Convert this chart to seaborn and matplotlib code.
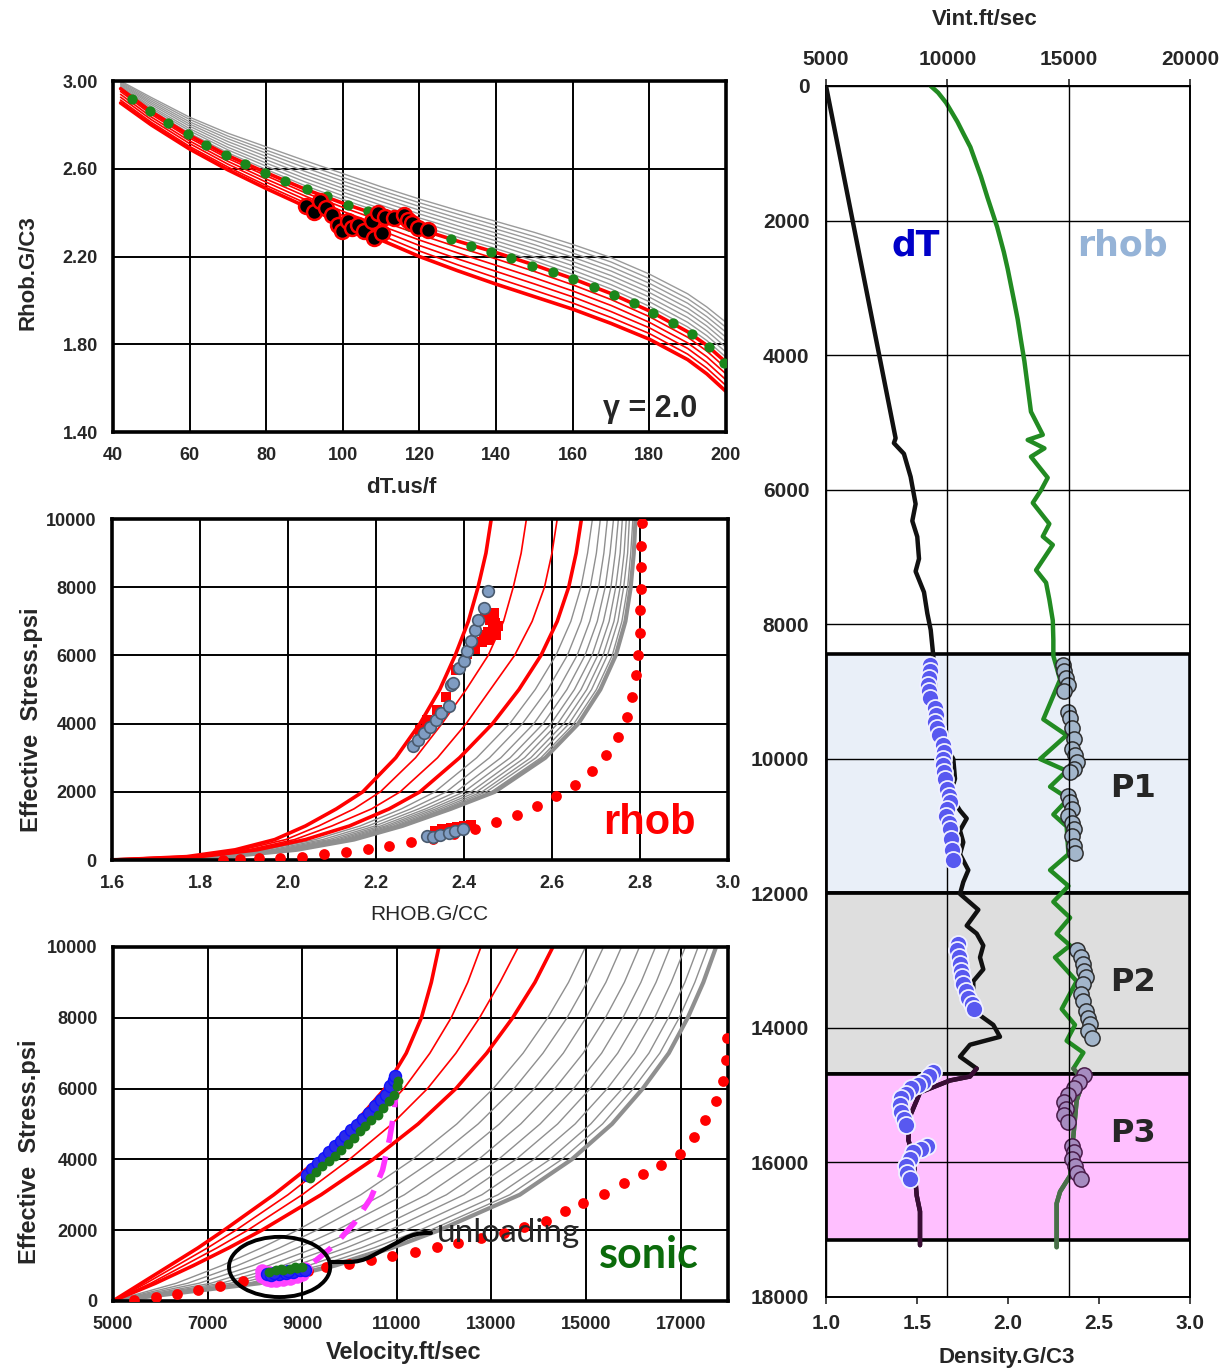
import numpy as np
import matplotlib
matplotlib.use("Agg")
import matplotlib.pyplot as plt
import seaborn as sns
from matplotlib.patches import Ellipse
from matplotlib.ticker import FormatStrFormatter

# ---------------- panel 1 : Rhob vs dT ----------------
p1_dt = [42, 50, 60, 70, 80, 90, 100, 110, 120, 130, 140, 150, 160, 170, 180, 190, 195, 200]
p1_red = [
    [2.900, 2.800, 2.690, 2.595, 2.510, 2.430, 2.350, 2.275, 2.200, 2.135, 2.074, 2.017, 1.960, 1.895, 1.823, 1.730, 1.665, 1.585],
    [2.913, 2.812, 2.702, 2.608, 2.524, 2.446, 2.369, 2.297, 2.225, 2.162, 2.103, 2.046, 1.988, 1.922, 1.849, 1.755, 1.691, 1.612],
    [2.926, 2.824, 2.715, 2.621, 2.539, 2.461, 2.387, 2.319, 2.250, 2.189, 2.132, 2.075, 2.016, 1.949, 1.875, 1.781, 1.717, 1.638],
    [2.939, 2.836, 2.727, 2.634, 2.553, 2.477, 2.406, 2.340, 2.275, 2.216, 2.160, 2.103, 2.043, 1.977, 1.900, 1.806, 1.743, 1.665],
    [2.952, 2.848, 2.740, 2.647, 2.568, 2.492, 2.424, 2.362, 2.300, 2.243, 2.189, 2.132, 2.071, 2.004, 1.926, 1.832, 1.769, 1.691],
    [2.965, 2.860, 2.752, 2.660, 2.582, 2.508, 2.443, 2.384, 2.325, 2.270, 2.218, 2.161, 2.099, 2.031, 1.952, 1.857, 1.795, 1.718],
]
p1_grey = [
    [2.969, 2.868, 2.762, 2.673, 2.597, 2.524, 2.460, 2.401, 2.342, 2.288, 2.236, 2.180, 2.119, 2.052, 1.973, 1.879, 1.817, 1.741],
    [2.974, 2.876, 2.773, 2.686, 2.612, 2.541, 2.477, 2.418, 2.359, 2.305, 2.254, 2.198, 2.138, 2.072, 1.994, 1.900, 1.839, 1.764],
    [2.978, 2.884, 2.783, 2.698, 2.626, 2.557, 2.494, 2.434, 2.376, 2.323, 2.271, 2.217, 2.158, 2.093, 2.015, 1.922, 1.861, 1.786],
    [2.983, 2.893, 2.794, 2.711, 2.641, 2.573, 2.511, 2.451, 2.394, 2.340, 2.289, 2.236, 2.177, 2.113, 2.036, 1.944, 1.883, 1.809],
    [2.987, 2.901, 2.804, 2.724, 2.656, 2.589, 2.527, 2.468, 2.411, 2.358, 2.307, 2.254, 2.197, 2.134, 2.057, 1.965, 1.904, 1.832],
    [2.991, 2.909, 2.814, 2.737, 2.671, 2.606, 2.544, 2.485, 2.428, 2.375, 2.325, 2.273, 2.216, 2.154, 2.078, 1.987, 1.926, 1.855],
    [2.996, 2.917, 2.825, 2.749, 2.685, 2.622, 2.561, 2.501, 2.445, 2.393, 2.342, 2.291, 2.236, 2.175, 2.099, 2.008, 1.948, 1.877],
    [3.000, 2.925, 2.835, 2.762, 2.700, 2.638, 2.578, 2.518, 2.462, 2.410, 2.360, 2.310, 2.255, 2.195, 2.120, 2.030, 1.970, 1.900],
]
p1_green_dt = [45.1, 49.6, 54.4, 59.5, 64.4, 69.4, 74.5, 79.8, 85.0, 90.6, 95.9, 101.3, 106.6, 112.0, 117.3, 122.8,
               128.3, 133.5, 138.8, 144.0, 149.4, 154.8, 160.2, 165.5, 170.7, 175.9, 181.0, 186.2, 191.2, 195.6, 199.4]
p1_green_rhob = [2.918, 2.863, 2.807, 2.757, 2.708, 2.662, 2.620, 2.582, 2.544, 2.507, 2.474, 2.437, 2.407, 2.372, 2.340, 2.308,
                 2.280, 2.250, 2.220, 2.192, 2.157, 2.130, 2.097, 2.059, 2.024, 1.986, 1.944, 1.899, 1.846, 1.789, 1.716]
p1_pts_dt = [90.5, 92.5, 94.0, 95.5, 97.2, 98.8, 99.8, 101.4, 102.5, 104.0, 105.5, 107.6, 108.1, 109.2, 110.2, 111.0,
             113.3, 115.9, 117.0, 118.0, 119.5, 122.1]
p1_pts_rhob = [2.430, 2.405, 2.452, 2.420, 2.391, 2.345, 2.315, 2.360, 2.330, 2.345, 2.315, 2.360, 2.284, 2.398, 2.307, 2.380,
               2.376, 2.391, 2.365, 2.353, 2.330, 2.322]

# ---------------- panel 2 : effective stress vs RHOB ----------------
p2_stress = [0, 100, 300, 600, 1000, 1500, 2000, 3000, 4000, 5000, 6000, 7000, 8000, 9000, 10000]
# columns: red thick, red thin, red thin, red thick, 9 grey, grey thick
p2_table = [
    [1.60, 1.60, 1.60, 1.60, 1.60, 1.60, 1.60, 1.60, 1.60, 1.60, 1.60, 1.60, 1.60, 1.60],
    [1.77, 1.78, 1.79, 1.80, 1.812, 1.821, 1.829, 1.835, 1.841, 1.846, 1.850, 1.853, 1.857, 1.86],
    [1.88, 1.895, 1.91, 1.93, 1.948, 1.962, 1.973, 1.983, 1.991, 1.998, 2.005, 2.010, 2.016, 2.02],
    [1.97, 1.995, 2.015, 2.04, 2.062, 2.079, 2.093, 2.105, 2.115, 2.124, 2.131, 2.138, 2.145, 2.15],
    [2.04, 2.07, 2.10, 2.14, 2.164, 2.182, 2.198, 2.211, 2.222, 2.231, 2.240, 2.247, 2.254, 2.26],
    [2.11, 2.15, 2.19, 2.23, 2.258, 2.279, 2.297, 2.313, 2.325, 2.336, 2.346, 2.355, 2.363, 2.37],
    [2.17, 2.21, 2.255, 2.30, 2.334, 2.360, 2.382, 2.400, 2.416, 2.429, 2.441, 2.451, 2.462, 2.47],
    [2.245, 2.29, 2.34, 2.39, 2.429, 2.458, 2.484, 2.505, 2.523, 2.538, 2.552, 2.564, 2.575, 2.585],
    [2.30, 2.35, 2.405, 2.465, 2.504, 2.533, 2.559, 2.580, 2.598, 2.613, 2.627, 2.639, 2.650, 2.66],
    [2.345, 2.405, 2.46, 2.525, 2.562, 2.590, 2.614, 2.634, 2.651, 2.666, 2.679, 2.690, 2.701, 2.71],
    [2.38, 2.455, 2.515, 2.575, 2.609, 2.635, 2.657, 2.675, 2.691, 2.704, 2.716, 2.726, 2.737, 2.745],
    [2.41, 2.49, 2.555, 2.612, 2.643, 2.666, 2.686, 2.703, 2.717, 2.730, 2.741, 2.750, 2.759, 2.767],
    [2.432, 2.512, 2.583, 2.638, 2.666, 2.687, 2.706, 2.721, 2.734, 2.745, 2.755, 2.763, 2.772, 2.779],
    [2.45, 2.53, 2.60, 2.655, 2.681, 2.701, 2.718, 2.732, 2.744, 2.755, 2.764, 2.772, 2.779, 2.786],
    [2.462, 2.542, 2.612, 2.667, 2.692, 2.710, 2.726, 2.740, 2.751, 2.760, 2.769, 2.776, 2.784, 2.79],
]
p2_dots_rho = [1.853, 1.891, 1.934, 1.982, 2.031, 2.082, 2.133, 2.182, 2.230, 2.280, 2.329, 2.378, 2.424, 2.472, 2.521, 2.566,
               2.609, 2.652, 2.690, 2.723, 2.750, 2.771, 2.783, 2.790, 2.796, 2.799, 2.801, 2.802, 2.803, 2.803, 2.804]
p2_dots_stress = [10, 30, 50, 68, 97, 166, 243, 331, 409, 526, 623, 750, 896, 1110, 1334, 1597,
                  1889, 2210, 2600, 3067, 3603, 4187, 4791, 5423, 6008, 6660, 7322, 7955, 8588, 9221, 9873]
p2_blue_rho = [2.284, 2.295, 2.309, 2.322, 2.336, 2.348, 2.365, 2.370, 2.375, 2.389, 2.400, 2.408, 2.416, 2.424, 2.431,
               2.445, 2.454, 2.316, 2.330, 2.345, 2.365, 2.380, 2.397]
p2_blue_stress = [3350, 3525, 3720, 3914, 4109, 4304, 4518, 5141, 5180, 5629, 5824, 6117, 6429, 6751, 7044,
                  7405, 7893, 701, 672, 720, 798, 850, 896]
p2_red_rho = [2.300, 2.316, 2.338, 2.359, 2.381, 2.408, 2.424, 2.445, 2.455, 2.465, 2.470, 2.478, 2.460, 2.450,
              2.440, 2.458, 2.472, 2.462, 2.448, 2.468,
              2.335, 2.350, 2.370, 2.385, 2.400, 2.415]
p2_red_stress = [3817, 4109, 4400, 4790, 5570, 6056, 6202, 6540, 6700, 6800, 6950, 6850, 7030, 6600,
                 6400, 6450, 6600, 7150, 7200, 7250,
                 850, 900, 940, 960, 1000, 1040]

# ---------------- panel 3 : effective stress vs velocity ----------------
p3_stress = [0, 500, 1000, 1500, 2000, 3000, 4000, 5000, 6000, 7000, 8000, 9000, 10000]
p3_table = [
    [5000, 5000, 5000, 5000, 5000, 5000, 5000, 5000, 5000, 5000, 5000, 5000, 5000, 5000],
    [5600, 5700, 5800, 5900, 6340, 6580, 6820, 7070, 7290, 7480, 7680, 7860, 7990, 8100],
    [6200, 6350, 6500, 6700, 7300, 7630, 7960, 8290, 8590, 8860, 9130, 9370, 9550, 9700],
    [6800, 7000, 7200, 7450, 8140, 8520, 8900, 9280, 9620, 9930, 10250, 10520, 10730, 10900],
    [7350, 7600, 7850, 8150, 8900, 9310, 9730, 10140, 10510, 10850, 11190, 11490, 11710, 11900],
    [8400, 8700, 9000, 9400, 10240, 10700, 11160, 11630, 12050, 12420, 12800, 13140, 13390, 13600],
    [9350, 9650, 10000, 10500, 11340, 11800, 12260, 12730, 13150, 13520, 13900, 14240, 14490, 14700],
    [10100, 10450, 10900, 11450, 12270, 12720, 13170, 13620, 14030, 14400, 14770, 15100, 15350, 15550],
    [10750, 11150, 11650, 12250, 13040, 13480, 13910, 14340, 14740, 15090, 15450, 15770, 16000, 16200],
    [11200, 11700, 12250, 12900, 13670, 14090, 14520, 14940, 15330, 15670, 16020, 16330, 16560, 16750],
    [11520, 12150, 12750, 13450, 14190, 14600, 15000, 15410, 15780, 16110, 16450, 16740, 16970, 17150],
    [11730, 12500, 13180, 13920, 14630, 15020, 15420, 15810, 16160, 16480, 16800, 17090, 17300, 17480],
    [11890, 12780, 13570, 14300, 14990, 15370, 15750, 16130, 16470, 16780, 17100, 17370, 17580, 17750],
]
p3_dots_vel = [5450, 5900, 6350, 6800, 7270, 7740, 8190, 8650, 9120, 9500, 9990, 10450, 10900, 11380, 11840, 12300,
               12780, 13270, 13680, 14150, 14550, 14940, 15380, 15800, 16210, 16590, 16980, 17280, 17520, 17740,
               17890, 17950, 17990]
p3_dots_stress = [30, 110, 210, 300, 415, 550, 650, 740, 850, 960, 1040, 1150, 1280, 1390, 1520, 1640,
                  1770, 1930, 2100, 2270, 2550, 2780, 3030, 3320, 3600, 3850, 4160, 4620, 5100, 5640,
                  6200, 6810, 7430]
p3_unload_vel = [9250, 9700, 10100, 10450, 10700, 10850, 10950, 11000]
p3_unload_stress = [1100, 1600, 2200, 2900, 3700, 4600, 5400, 6100]
p3_blue_vel = [9098, 9217, 9337, 9467, 9566, 9696, 9816, 9915, 10035, 10164, 10294, 10414, 10533, 10663, 10762, 10862,
               10932, 10962, 8250, 8350, 8500, 8650, 8800, 8950, 9050, 8400, 8700]
p3_blue_stress = [3563, 3723, 3893, 4034, 4194, 4364, 4505, 4647, 4835, 4976, 5137, 5306, 5495, 5664, 5825, 6060,
                  6249, 6343, 750, 720, 760, 780, 820, 860, 880, 800, 850]
p3_green_vel = [9168, 9297, 9417, 9566, 9696, 9816, 9965, 10095, 10214, 10334, 10464, 10593, 10713, 10832, 10932, 11012,
                11032, 8300, 8450, 8600, 8750, 8900, 9000, 8550, 8850]
p3_green_stress = [3468, 3629, 3798, 3940, 4100, 4270, 4430, 4599, 4788, 4929, 5099, 5259, 5448, 5636, 5825, 6060,
                   6202, 830, 860, 880, 900, 930, 960, 900, 950]
p3_mag_vel = [8150, 8250, 8350, 8450, 8600, 8750, 8900, 9000, 8150, 8300, 8500, 8700, 8850, 9050]
p3_mag_stress = [700, 620, 580, 600, 620, 640, 700, 760, 850, 800, 700, 720, 800, 900]

# ---------------- right panel : logs vs depth ----------------
log_vint_depth = [0, 5236, 5308, 5467, 5810, 6213, 6465, 6700, 7027, 7215, 7525, 7839, 8086, 8234, 8470, 8824, 9178, 9532,
                  9827, 10004, 10298, 10534, 10770, 10888, 11065, 11242, 11419, 11655, 11832, 12009, 12245, 12481,
                  12599, 12776, 12953, 13130, 13307, 13543, 13779, 13956, 14133, 14251, 14428, 14605, 14723, 14782,
                  14959, 15077, 15313, 15667, 15903, 16493, 16729, 17082, 17230]
log_vint = [5000, 7868, 7797, 8210, 8487, 8692, 8556, 8760, 8832, 8692, 9038, 9174, 9314, 9355, 9421, 9491, 9561, 9697,
            9973, 10245, 10315, 10109, 10521, 10798, 10521, 10657, 10521, 10864, 10657, 10521, 11276, 10798,
            11209, 11481, 11345, 11481, 11069, 11069, 11209, 11893, 12169, 10933, 10521, 11209, 10933, 10109,
            8873, 8737, 8461, 8392, 8598, 8737, 8873, 8873, 8873]
log_rho_depth = [0, 100, 250, 533, 720, 908, 1345, 1657, 2094, 2469, 2718, 3218, 3468, 3780, 4092, 4468, 4842, 5185,
                 5261, 5386, 5511, 5823, 6010, 6197, 6509, 6696, 6821, 7009, 7196, 7383, 7633, 7946, 8234, 8470, 8824,
                 9414, 9650, 10004, 10180, 10416, 10593, 10829, 11006, 11419, 11655, 11891, 12127, 12363, 12599, 12776,
                 12953, 13307, 13720, 13956, 14192, 14369, 14605, 14782, 15077, 15608, 16198, 16434, 16611, 17260]
log_rho = [1.575, 1.616, 1.660, 1.722, 1.757, 1.793, 1.851, 1.887, 1.940, 1.977, 1.998, 2.035, 2.053, 2.071, 2.090, 2.108,
           2.126, 2.191, 2.108, 2.200, 2.126, 2.218, 2.181, 2.136, 2.227, 2.191, 2.246, 2.200, 2.154, 2.209, 2.227,
           2.246, 2.249, 2.249, 2.286, 2.194, 2.322, 2.176, 2.322, 2.231, 2.332, 2.249, 2.322, 2.332, 2.231, 2.332,
           2.249, 2.341, 2.267, 2.341, 2.258, 2.377, 2.295, 2.368, 2.322, 2.414, 2.359, 2.414, 2.377, 2.359, 2.341,
           2.286, 2.267, 2.267]
dt_pts_vint = [9280, 9300, 9250, 9200, 9230, 9300, 9500, 9550, 9500, 9560, 9650, 9800, 9850, 9800, 9820, 9850, 9900,
               10000, 10050, 10100, 10000, 9950, 10050, 10100, 10150, 10200, 10250,
               10450, 10400, 10500, 10520, 10550, 10600, 10650, 10750, 10850, 11000, 11100,
               9400, 9250, 9000, 8800, 8500, 8300, 8100, 8050, 8100, 8200, 8300,
               9150, 8900, 8600, 8450, 8300, 8350, 8450]
dt_pts_depth = [8600, 8700, 8800, 8900, 9000, 9100, 9250, 9350, 9450, 9550, 9650, 9800, 9900, 10000, 10100, 10200, 10300,
                10450, 10550, 10650, 10750, 10850, 10950, 11050, 11200, 11350, 11500,
                12750, 12850, 12950, 13050, 13150, 13250, 13350, 13450, 13550, 13650, 13720,
                14650, 14720, 14800, 14850, 14900, 14980, 15050, 15150, 15250, 15350, 15450,
                15750, 15800, 15850, 15950, 16050, 16150, 16250]
rho_pts = [2.30, 2.31, 2.32, 2.33, 2.31, 2.33, 2.34, 2.35, 2.36, 2.35, 2.37, 2.38, 2.36, 2.34,
           2.33, 2.34, 2.35, 2.33, 2.35, 2.36, 2.35, 2.36, 2.37,
           2.38, 2.40, 2.41, 2.42, 2.43, 2.41, 2.40, 2.41, 2.43, 2.44, 2.45, 2.44, 2.46]
rho_pts_depth = [8600, 8700, 8800, 8900, 9000, 9300, 9400, 9550, 9700, 9850, 9950, 10050, 10150, 10200,
                 10550, 10650, 10750, 10850, 10950, 11050, 11150, 11300, 11400,
                 12850, 12950, 13050, 13150, 13250, 13350, 13500, 13600, 13750, 13850, 13950, 14050, 14150]
rho_p3_pts = [2.42, 2.39, 2.36, 2.33, 2.31, 2.32, 2.31, 2.33, 2.35, 2.36, 2.35, 2.37, 2.38, 2.40]
rho_p3_depth = [14700, 14800, 14900, 15000, 15100, 15200, 15300, 15400, 15750, 15850, 15950, 16050, 16150, 16250]
zone_bounds = [8450, 12000, 14680, 17150]
zone_names = ["P1", "P2", "P3"]
zone_colors = ["#e9eff8", "#dedede", "#ffbfff"]

# ---------------- style ----------------
sns.set_style("white")
plt.rcParams["font.family"] = ["Liberation Sans", "DejaVu Sans"]
plt.rcParams["font.weight"] = "bold"

RED = "#ff0000"
GREY = "#8f8f8f"


def line(ax, x, y, color, lw, z=2, **kw):
    sns.lineplot(x=list(x), y=list(y), ax=ax, color=color, linewidth=lw, sort=False,
                 estimator=None, legend=False, zorder=z, **kw)


def frame(ax):
    ax.grid(True, color="black", linewidth=1.4)
    ax.set_axisbelow(True)
    for s in ax.spines.values():
        s.set_linewidth(2.6)
        s.set_color("black")
    ax.tick_params(labelsize=13, length=4, width=1.2, pad=7, direction="out")
    ax.set_xlabel("")
    ax.set_ylabel("")


fig = plt.figure(figsize=(12.29, 13.71), dpi=100)
ax1 = fig.add_axes([0.0919, 0.6849, 0.4988, 0.2560])
ax2 = fig.add_axes([0.0911, 0.3727, 0.5012, 0.2487])
ax3 = fig.add_axes([0.0919, 0.0511, 0.5004, 0.2582])
axr = fig.add_axes([0.6721, 0.0540, 0.2962, 0.8833])

# ---- panel 1 ----
for c in p1_grey:
    line(ax1, p1_dt, c, "#9a9a9a", 1.0)
for i, c in enumerate(p1_red):
    line(ax1, p1_dt, c, RED, 2.6 if i in (0, 5) else 1.2)
sns.scatterplot(x=p1_green_dt, y=p1_green_rhob, ax=ax1, color="#1b871b", s=55, linewidth=0, legend=False, zorder=4)
sns.scatterplot(x=p1_pts_dt, y=p1_pts_rhob, ax=ax1, color="black", edgecolor=RED, linewidth=1.8, s=115,
                legend=False, zorder=5)
ax1.set_xlim(40, 200)
ax1.set_ylim(1.40, 3.00)
ax1.set_xticks(range(40, 201, 20))
ax1.set_yticks([1.40, 1.80, 2.20, 2.60, 3.00])
ax1.yaxis.set_major_formatter(FormatStrFormatter("%.2f"))
frame(ax1)
ax1.text(-0.139, 0.453, "Rhob.G/C3", transform=ax1.transAxes, rotation=90, ha="center", va="center", fontsize=16)
ax1.text(0.470, -0.157, "dT.us/f", transform=ax1.transAxes, ha="center", va="center", fontsize=16)
ax1.text(0.876, 0.066, "\u03b3 = 2.0", transform=ax1.transAxes, ha="center", va="center", fontsize=22)

# ---- panel 2 ----
p2_cols = np.array(p2_table).T
for i, c in enumerate(p2_cols):
    if i < 4:
        continue
    line(ax2, c, p2_stress, GREY, 3.0 if i == 13 else 1.0)
for i in range(4):
    line(ax2, p2_cols[i], p2_stress, RED, 2.6 if i in (0, 3) else 1.2)
sns.scatterplot(x=p2_dots_rho, y=p2_dots_stress, ax=ax2, color=RED, s=60, linewidth=0, legend=False, zorder=4)
sns.scatterplot(x=p2_red_rho, y=p2_red_stress, ax=ax2, color=RED, marker="s", s=60, linewidth=0, legend=False, zorder=5)
sns.scatterplot(x=p2_blue_rho, y=p2_blue_stress, ax=ax2, color="#7f9cc2", edgecolor="#4a5a6e", linewidth=1.2, s=70,
                legend=False, zorder=6)
ax2.set_xlim(1.6, 3.0)
ax2.set_ylim(0, 10000)
ax2.set_xticks([1.6, 1.8, 2.0, 2.2, 2.4, 2.6, 2.8, 3.0])
ax2.set_yticks(range(0, 10001, 2000))
frame(ax2)
ax2.text(-0.130, 0.411, "Effective  Stress.psi", transform=ax2.transAxes, rotation=90, ha="center", va="center",
         fontsize=17)
ax2.text(0.516, -0.161, "RHOB.G/CC", transform=ax2.transAxes, ha="center", va="center", fontsize=15,
         fontweight="normal")
ax2.text(0.873, 0.109, "rhob", transform=ax2.transAxes, ha="center", va="center", fontsize=30, color=RED)

# ---- panel 3 ----
p3_cols = np.array(p3_table).T
for i, c in enumerate(p3_cols):
    if i < 4:
        continue
    line(ax3, c, p3_stress, GREY, 3.0 if i == 13 else 1.0)
for i in range(4):
    line(ax3, p3_cols[i], p3_stress, RED, 2.6 if i in (0, 3) else 1.2)
sns.scatterplot(x=p3_dots_vel, y=p3_dots_stress, ax=ax3, color=RED, s=60, linewidth=0, legend=False, zorder=4)
line(ax3, p3_unload_vel, p3_unload_stress, "#ff33ff", 4.0, z=5, linestyle=(0, (4, 2.5)))
sns.scatterplot(x=p3_mag_vel, y=p3_mag_stress, ax=ax3, color="#ff44ff", s=110, linewidth=0, legend=False, zorder=5)
sns.scatterplot(x=p3_blue_vel, y=p3_blue_stress, ax=ax3, color="#2a2ae8", edgecolor="#1010ff", linewidth=1, s=75,
                legend=False, zorder=6)
sns.scatterplot(x=p3_green_vel, y=p3_green_stress, ax=ax3, color="#1a7a1a", s=50, linewidth=0, legend=False, zorder=7)
ax3.add_patch(Ellipse((8523, 960), width=2140, height=1700, fill=False, edgecolor="black", linewidth=2.8, zorder=8))
ax3.annotate("unloading", xy=(9600, 1100), xytext=(11850, 1920), ha="left", va="center", fontsize=24,
             fontweight="normal", family=["Lato", "DejaVu Sans"],
             arrowprops=dict(arrowstyle="-", color="black", lw=3, relpos=(0, 0.5), shrinkA=2, shrinkB=0,
                             connectionstyle="arc,angleA=180,angleB=0,armA=22,armB=30,rad=12"), zorder=9)
ax3.set_xlim(5000, 18000)
ax3.set_ylim(0, 10000)
ax3.set_xticks(range(5000, 17001, 2000))
ax3.set_yticks(range(0, 10001, 2000))
frame(ax3)
ax3.text(-0.135, 0.421, "Effective  Stress.psi", transform=ax3.transAxes, rotation=90, ha="center", va="center",
         fontsize=17)
ax3.text(0.472, -0.147, "Velocity.ft/sec", transform=ax3.transAxes, ha="center", va="center", fontsize=17)
ax3.text(0.872, 0.130, "sonic", transform=ax3.transAxes, ha="center", va="center", fontsize=31, color="#0b6b0b",
         family=["Lato", "DejaVu Sans"])

# ---- right panel ----
axv = axr.twiny()
for top, bot, col in zip(zone_bounds[:-1], zone_bounds[1:], zone_colors):
    axr.axhspan(top, bot, facecolor=col, edgecolor="black", linewidth=2.6, zorder=1)
rd = np.array(log_rho_depth)
rr = np.array(log_rho)
line(axr, rr, rd, "#228b22", 3.2, z=3)
line(axr, rr[rd >= 14605], rd[rd >= 14605], "#4a6e4a", 3.2, z=3)
sns.scatterplot(x=rho_pts, y=rho_pts_depth, ax=axr, color="#a3b6cb", edgecolor="#2e2e2e", linewidth=1.1, s=120,
                legend=False, zorder=4)
sns.scatterplot(x=rho_p3_pts, y=rho_p3_depth, ax=axr, color="#a68cc0", edgecolor="#4a1c4a", linewidth=1.1, s=120,
                legend=False, zorder=4)
vd = np.array(log_vint_depth)
vv = np.array(log_vint)
line(axv, vv, vd, "#111111", 3.2, z=3)
line(axv, vv[vd >= 14605], vd[vd >= 14605], "#3a0d35", 3.2, z=3)
sns.scatterplot(x=dt_pts_vint, y=dt_pts_depth, ax=axv, color="#5858f0", edgecolor="#f0f0ff", linewidth=1.3, s=150,
                legend=False, zorder=4)

axr.set_xlim(1.0, 3.0)
axr.set_ylim(18000, 0)
axv.set_xlim(5000, 20000)
axv.set_ylim(18000, 0)
axr.set_xticks([1.0, 1.5, 2.0, 2.5, 3.0])
axr.set_yticks(range(0, 18001, 2000))
axv.set_xticks([5000, 10000, 15000, 20000])
axr.grid(True, axis="y", color="black", linewidth=1.0)
axr.grid(False, axis="x")
axr.set_axisbelow("line")
axv.grid(True, axis="x", color="black", linewidth=1.0)
axv.grid(False, axis="y")
for a in (axr, axv):
    for s in a.spines.values():
        s.set_linewidth(1.2)
        s.set_color("black")
    a.set_xlabel("")
    a.set_ylabel("")
axr.tick_params(labelsize=15, length=5, width=1.2, pad=7, direction="out")
axv.tick_params(labelsize=15, length=5, width=1.2, pad=7, direction="out")
axr.text(0.437, 1.0545, "Vint.ft/sec", transform=axr.transAxes, ha="center", va="center", fontsize=16)
axr.text(0.495, -0.050, "Density.G/C3", transform=axr.transAxes, ha="center", va="center", fontsize=16)
axv.text(0.247, 0.868, "dT", transform=axr.transAxes, ha="center", va="center", fontsize=25, color="#0000c8",
         family=["DejaVu Sans"], zorder=10)
axv.text(0.813, 0.868, "rhob", transform=axr.transAxes, ha="center", va="center", fontsize=25, color="#95b3d7",
         family=["DejaVu Sans"], zorder=10)
for name, yfrac in zip(zone_names, [0.420, 0.260, 0.135]):
    axv.text(0.843, yfrac, name, transform=axr.transAxes, ha="center", va="center", fontsize=23,
             family=["DejaVu Sans"], zorder=10)

fig.savefig("out.png", dpi=100)
